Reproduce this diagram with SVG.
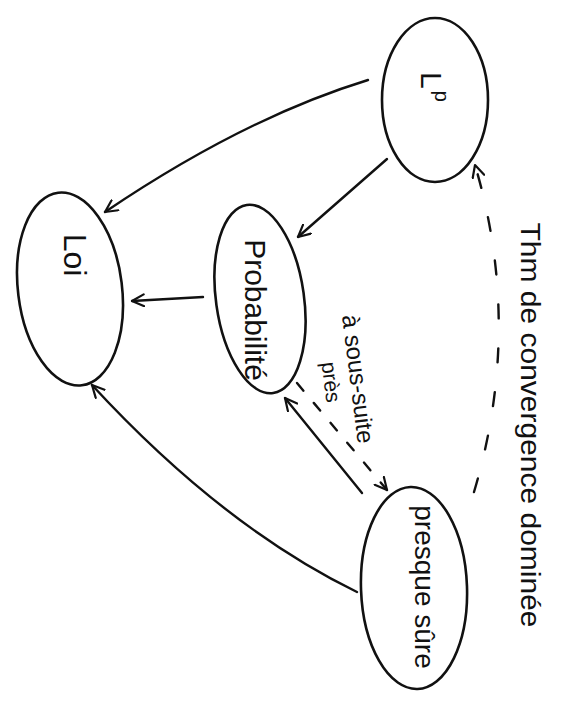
<svg xmlns="http://www.w3.org/2000/svg" width="564" height="708" viewBox="0 0 564 708">
  <style>
    .node { fill: none; stroke: #111; stroke-width: 2.6; }
    .edge { fill: none; stroke: #111; stroke-width: 2.4; stroke-linecap: round; }
    .dash1 { stroke-dasharray: 14 30; }
    .dash2 { stroke-dasharray: 10 16; }
    .lbl { font-family: "Liberation Sans", "DejaVu Sans", sans-serif; fill: #111; }
  </style>
  <defs>
    <marker id="arr" viewBox="0 0 14 14" refX="13" refY="7" markerWidth="14" markerHeight="14" markerUnits="userSpaceOnUse" orient="auto">
      <path d="M1,1 L13,7 L1,13" fill="none" stroke="#111" stroke-width="2.2" stroke-linecap="round" stroke-linejoin="round"/>
    </marker>
  </defs>
  <rect width="564" height="708" fill="#fff"/>

  <g id="node-lp">
    <ellipse class="node" cx="435" cy="100" rx="53" ry="82"/>
    <text class="lbl" font-size="30" transform="translate(421,72) rotate(90)">L<tspan font-size="20" dy="-14" dx="2">p</tspan></text>
  </g>

  <g id="node-proba">
    <ellipse class="node" cx="260" cy="299" rx="44" ry="95" transform="rotate(-8 260 299)"/>
    <text class="lbl" font-size="30" text-anchor="middle" transform="translate(245,310) rotate(90)">Probabilité</text>
  </g>

  <g id="node-loi">
    <ellipse class="node" cx="70" cy="289" rx="52" ry="97" transform="rotate(-7 70 289)"/>
    <text class="lbl" font-size="32" text-anchor="middle" transform="translate(64,255) rotate(90)">Loi</text>
  </g>

  <g id="node-ps">
    <ellipse class="node" cx="414" cy="588" rx="53" ry="101" transform="rotate(-2 414 588)"/>
    <text class="lbl" font-size="28" text-anchor="middle" transform="translate(415,587) rotate(90)">presque sûre</text>
  </g>

  <g id="connectors">
    <path class="edge" d="M368,80 Q244,118 105,212" marker-end="url(#arr)"/>
    <path class="edge" d="M387,159 L298,237" marker-end="url(#arr)"/>
    <path class="edge" d="M203,297 L132,301" marker-end="url(#arr)"/>
    <path class="edge" d="M357,592 Q222,526 92,385" marker-end="url(#arr)"/>
    <path class="edge" d="M362,493 L285,398" marker-end="url(#arr)"/>
    <path class="edge dash2" d="M297,383 L387,490" marker-end="url(#arr)"/>
    <path class="edge dash1" d="M474,492 Q523,327 475,165" marker-end="url(#arr)"/>
    <text class="lbl" font-size="24" text-anchor="middle" transform="translate(350,380) rotate(83)">à sous-suite</text>
    <text class="lbl" font-size="21" text-anchor="middle" transform="translate(324,383) rotate(83)">près</text>
    <text class="lbl" font-size="28" text-anchor="middle" transform="translate(521,425) rotate(90)" textLength="405" lengthAdjust="spacingAndGlyphs">Thm de convergence dominée</text>
  </g>
</svg>
